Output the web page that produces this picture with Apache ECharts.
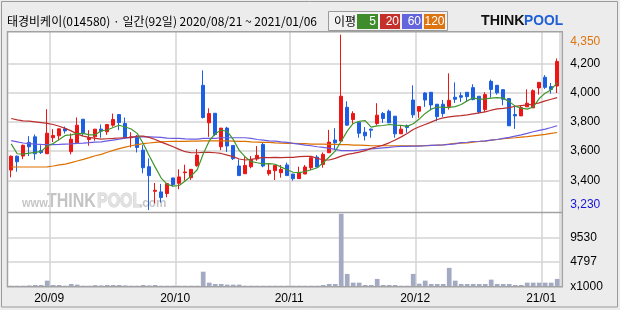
<!DOCTYPE html>
<html><head><meta charset="utf-8">
<script src="https://cdn.jsdelivr.net/npm/echarts@6/dist/echarts.min.js"></script>
<style>html,body{margin:0;padding:0;background:#ececec}#c{width:620px;height:310px}</style>
</head><body><div id="c"></div><script>
const dates = [
'2020/08/21','2020/08/24','2020/08/25','2020/08/26','2020/08/27','2020/08/28','2020/08/31',
'2020/09/01','2020/09/02','2020/09/03','2020/09/04','2020/09/07','2020/09/08','2020/09/09','2020/09/10','2020/09/11','2020/09/14','2020/09/15','2020/09/16','2020/09/17','2020/09/18','2020/09/21','2020/09/22','2020/09/23','2020/09/24','2020/09/25','2020/09/28','2020/09/29',
'2020/10/05','2020/10/06','2020/10/07','2020/10/08','2020/10/12','2020/10/13','2020/10/14','2020/10/15','2020/10/16','2020/10/19','2020/10/20','2020/10/21','2020/10/22','2020/10/23','2020/10/26','2020/10/27','2020/10/28','2020/10/29','2020/10/30',
'2020/11/02','2020/11/03','2020/11/04','2020/11/05','2020/11/06','2020/11/09','2020/11/10','2020/11/11','2020/11/12','2020/11/13','2020/11/16','2020/11/17','2020/11/18','2020/11/19','2020/11/20','2020/11/23','2020/11/24','2020/11/25','2020/11/26','2020/11/27','2020/11/30',
'2020/12/01','2020/12/02','2020/12/03','2020/12/04','2020/12/07','2020/12/08','2020/12/09','2020/12/10','2020/12/11','2020/12/14','2020/12/15','2020/12/16','2020/12/17','2020/12/18','2020/12/21','2020/12/22','2020/12/23','2020/12/24','2020/12/28','2020/12/29','2020/12/30',
'2021/01/04','2021/01/05','2021/01/06'];

const opens = [3470,3565,3566,3660,3698,3603,3582,3692,3705,3753,3596,3657,3819,3680,3698,
3751,3733,3778,3851,3790,3692,3694,3607,3493,3324,3320,3309,3416,3379,3452,
3418,3500,4052,3794,3860,3630,3758,3639,3498,3445,3493,3546,3646,3445,3466,
3452,3505,3443,3411,3443,3486,3559,3509,3589,3676,3669,3901,3817,3799,3730,
3751,3790,3858,3874,3840,3719,3774,3951,3874,3999,4004,3922,3922,3906,3970,
3981,4004,4036,3977,3885,4079,4052,4022,3961,3851,3842,3904,3897,4034,4107,4043,4047];
const closes = [3565,3527,3640,3630,3582,3590,3723,3708,3753,3739,3682,3778,3726,3694,3751,
3737,3783,3817,3796,3692,3698,3625,3486,3432,3331,3281,3377,3370,3423,3457,
3475,3573,3831,3858,3714,3758,3635,3548,3432,3502,3543,3571,3498,3468,3502,
3475,3432,3411,3454,3491,3555,3491,3578,3662,3657,3977,3778,3858,3723,3705,
3744,3847,3824,3794,3719,3751,3762,3849,3906,3951,3917,3837,3858,3949,3956,
3970,3974,3954,3869,3988,4024,4000,3956,3774,3842,3899,3929,4015,4072,4038,4024,4216];
const lows = [3420,3459,3545,3566,3541,3580,3580,3662,3673,3721,3578,3653,3703,3637,3671,
3692,3712,3767,3744,3687,3625,3591,3448,3195,3242,3247,3283,3356,3338,3398,
3402,3493,3824,3698,3703,3607,3594,3539,3431,3444,3482,3534,3489,3432,3402,
3418,3431,3397,3410,3442,3470,3490,3486,3588,3607,3668,3777,3790,3692,3673,
3692,3778,3794,3793,3692,3718,3726,3828,3828,3904,3881,3806,3835,3885,3931,
3938,3938,3949,3858,3869,3967,3988,3915,3772,3753,3841,3903,3896,3988,4027,3995,3999];
const highs = [3570,3570,3645,3703,3714,3641,3888,3751,3755,3769,3721,3831,3820,3744,3752,
3783,3785,3858,3851,3831,3730,3710,3641,3550,3381,3375,3378,3416,3475,3507,
3476,3614,4154,3894,3861,3758,3767,3639,3543,3562,3566,3635,3657,3516,3503,
3505,3521,3443,3493,3505,3556,3573,3591,3746,3758,4400,3942,3874,3800,3765,
3755,3929,3869,3885,3841,3778,3783,4052,3907,4004,4005,3923,3951,4134,4072,
4004,4005,4059,3978,4004,4091,4053,4023,3962,3915,3915,4024,4024,4073,4122,4068,4236];

const volumes = [200,200,200,250,330,330,1170,330,330,200,520,400,200,200,300,
250,330,330,330,250,200,200,330,250,330,200,200,200,200,200,
200,200,2900,780,520,520,400,400,400,200,200,200,200,200,200,
200,200,200,200,200,200,200,330,520,520,14100,2470,780,780,330,
330,1500,330,330,330,200,200,2470,580,1170,520,520,520,3640,1170,
520,520,520,520,520,1365,520,520,520,330,330,780,780,780,780,780,1500];

const ma5 = [3650,3582,3580,3586,3592,3598,3635,3652,3680,3708,3712,3720,3722,3712,3712,
3740,3745,3762,3778,3766,3752,3722,3652,3568,3490,3415,3372,3360,3364,3395,
3430,3472,3580,3670,3720,3745,3735,3680,3605,3560,3528,3520,3513,3514,3510,
3490,3472,3455,3453,3460,3472,3486,3520,3560,3600,3668,3737,3790,3805,3810,
3765,3773,3776,3783,3779,3777,3770,3788,3820,3859,3888,3903,3901,3900,3906,
3920,3945,3966,3956,3959,3964,3967,3964,3940,3909,3895,3888,3903,3961,3998,4022,4070];
const ma20 = [3824,3815,3808,3806,3801,3796,3790,3783,3771,3756,3739,3717,3703,3694,3687,
3683,3685,3687,3690,3692,3694,3703,3703,3694,3680,3662,3646,3630,3612,3596,
3589,3589,3591,3591,3589,3584,3573,3562,3546,3539,3543,3550,3557,3555,3557,
3555,3557,3557,3562,3564,3564,3550,3539,3539,3550,3566,3578,3584,3593,3603,
3619,3630,3641,3657,3676,3698,3721,3749,3767,3783,3799,3817,3828,3835,3840,
3844,3849,3856,3863,3869,3881,3890,3894,3899,3908,3913,3917,3922,3931,3945,3956,3967];
const ma60 = [3672,3664,3656,3652,3648,3646,3645,3645,3646,3648,3650,3653,3655,3658,3662,
3664,3670,3676,3682,3689,3694,3698,3698,3698,3696,3694,3689,3687,3687,3684,
3682,3682,3687,3687,3687,3692,3692,3692,3692,3692,3687,3680,3676,3671,3669,
3664,3660,3653,3648,3641,3637,3630,3626,3619,3612,3603,3603,3603,3607,3612,
3616,3619,3623,3626,3630,3632,3633,3634,3635,3637,3639,3641,3643,3646,3650,
3658,3661,3666,3668,3671,3676,3680,3687,3694,3703,3712,3722,3733,3742,3751,3762,3774];
const ma120 = [3491,3491,3491,3491,3491,3491,3492,3498,3505,3511,3521,3532,3543,3555,3568,
3578,3592,3605,3617,3628,3637,3645,3651,3656,3660,3663,3666,3667,3667,3667,
3669,3669,3671,3671,3671,3671,3671,3669,3667,3667,3664,3662,3660,3660,3657,
3655,3653,3653,3651,3651,3648,3648,3648,3646,3646,3644,3644,3641,3641,3639,
3637,3637,3637,3637,3636,3636,3636,3636,3636,3638,3640,3641,3643,3648,3653,
3655,3657,3662,3666,3669,3676,3680,3685,3689,3692,3696,3700,3705,3710,3715,3722,3728];

const priceTicks = [3230,3400,3600,3800,4000,4200,4350];
const priceTickLabels = ['3,230','3,400','3,600','3,800','4,000','4,200','4,350'];
const priceGrid = [3400,3600,3800,4000,4200];
const volTicks = [0,4797,9530];
const volTickLabels = ['x1000','4797','9530'];

const monthIdx = new Set();
dates.forEach((d,i)=>{ if(i>0 && d.slice(0,7)!==dates[i-1].slice(0,7)) monthIdx.add(i); });
const isMonth = (i)=>monthIdx.has(i);

const UP='#ee1515', DOWN='#1c5fe4';
const chart = echarts.init(document.getElementById('c'));
const numFont = '"Liberation Sans", Arial, sans-serif';
const krFont = '"Noto Sans CJK KR", sans-serif';
const lblRich = {
  n:{color:'#000', fontSize:12, fontFamily:numFont},
  lo:{color:'#1414d8', fontSize:12, fontFamily:numFont},
  hi:{color:'#dc7410', fontSize:12, fontFamily:numFont}
};

const option = {
  backgroundColor:'#ececec',
  animation:false,
  grid:[
    {left:8.2, width:552, top:31.7, height:180.6},
    {left:8.2, width:552, top:212.7, height:74}
  ],
  xAxis:[
    {type:'category', gridIndex:0, data:dates, boundaryGap:true,
     axisLine:{show:false}, axisTick:{show:false}, axisLabel:{show:false},
     splitLine:{show:true, interval:isMonth, lineStyle:{color:'#d4d4d4', width:1.5}}},
    {type:'category', gridIndex:1, data:dates, boundaryGap:true,
     axisLine:{show:false}, axisTick:{show:false},
     axisLabel:{show:true, interval:isMonth, formatter:v=>v.slice(2,4)+'/'+v.slice(5,7),
       color:'#000', fontSize:12, fontFamily:numFont, margin:6, padding:[0,8,0,0]},
     splitLine:{show:true, interval:isMonth, lineStyle:{color:'#d4d4d4', width:1.5}}}
  ],
  yAxis:[
    {type:'value', gridIndex:0, position:'right', min:3180, max:4420, scale:true,
     splitLine:{show:false}, axisLine:{show:false}, axisTick:{show:false},
     axisLabel:{customValues:priceTicks, margin:10, fontSize:12, fontFamily:numFont, rich:lblRich,
       formatter:v=>{const k=priceTicks.indexOf(v); if(k<0) return '';
         const s = k===0?'lo':(k===priceTicks.length-1?'hi':'n');
         return '{'+s+'|'+priceTickLabels[k]+'}';}}},
    {type:'value', gridIndex:1, position:'right', min:0, max:14300,
     splitLine:{show:false}, axisLine:{show:false}, axisTick:{show:false},
     axisLabel:{customValues:volTicks, margin:10, fontSize:12, fontFamily:numFont, color:'#000',
       formatter:v=>{const k=volTicks.indexOf(v); return k>=0?volTickLabels[k]:'';}}}
  ],
  series:[
    {type:'candlestick', xAxisIndex:0, yAxisIndex:0, barWidth:3.6,
     data:opens.map((o,i)=>[o,closes[i],lows[i],highs[i]]),
     itemStyle:{color:UP, color0:DOWN, borderColor:UP, borderColor0:DOWN, borderWidth:1},
     markLine:{z:1, silent:true, symbol:['none','none'], label:{show:false}, animation:false,
       lineStyle:{color:'#d4d4d4', type:'solid', width:1.5},
       emphasis:{disabled:true},
       data:priceGrid.map(v=>({yAxis:v}))}},
    {type:'line', xAxisIndex:0, yAxisIndex:0, data:ma120, symbol:'none', lineStyle:{color:'#dc7000', width:1.2}, z:3, silent:true},
    {type:'line', xAxisIndex:0, yAxisIndex:0, data:ma60, symbol:'none', lineStyle:{color:'#6a5ce0', width:1.2}, z:3, silent:true},
    {type:'line', xAxisIndex:0, yAxisIndex:0, data:ma20, symbol:'none', lineStyle:{color:'#bb2e2e', width:1.2}, z:3, silent:true},
    {type:'line', xAxisIndex:0, yAxisIndex:0, data:ma5, symbol:'none', lineStyle:{color:'#3f962c', width:1.2}, z:3, silent:true},
    {type:'bar', xAxisIndex:1, yAxisIndex:1, data:volumes, barWidth:4.7, itemStyle:{color:'#a3aac2'},
     markLine:{z:1, silent:true, symbol:['none','none'], label:{show:false}, animation:false,
       lineStyle:{color:'#d4d4d4', type:'solid', width:1.5},
       data:volTicks.slice(1).map(v=>({yAxis:v}))}}
  ],
  graphic:{elements:[
    {type:'rect', z:-5, silent:true, shape:{x:7.5, y:31.7, width:554.8, height:255}, style:{fill:'#ffffff'}},
    {type:'group', z:0, silent:true, x:22, y:210, children:[
      {type:'text', x:0, y:0, scaleX:0.85, style:{text:'www.', font:'bold 13px '+numFont, fill:'#c6c6c6', verticalAlign:'bottom'}},
      {type:'text', x:25, y:1, scaleX:0.8, style:{text:'THINK', font:'bold 20px '+numFont, fill:'#c4c4c4', verticalAlign:'bottom'}},
      {type:'text', x:75, y:1, scaleX:0.8, style:{text:'POOL', font:'bold 20px '+numFont, fill:'#e2e2e2', stroke:'#cfcfcf', lineWidth:1, verticalAlign:'bottom'}},
      {type:'text', x:117, y:0, scaleX:0.9, style:{text:'.com', font:'bold 13px '+numFont, fill:'#c6c6c6', verticalAlign:'bottom'}}
    ]},
    {type:'rect', z:50, silent:true, shape:{x:7.5, y:31.7, width:554.8, height:255}, style:{fill:'none', stroke:'#a2a2a2', lineWidth:1.5}},
    {type:'line', z:50, silent:true, shape:{x1:7.5, y1:212.5, x2:562.3, y2:212.5}, style:{stroke:'#a2a2a2', lineWidth:1.5}},
    {type:'rect', z:50, silent:true, shape:{x:1.5, y:1.5, width:616, height:305.5}, style:{fill:'none', stroke:'#9a9a9a', lineWidth:1}},
    {type:'text', x:7, y:21, silent:true, style:{text:'태경비케이(014580) · 일간(92일) 2020/08/21 ~ 2021/01/06', font:'12px '+krFont, fill:'#000', verticalAlign:'middle'}},
    {type:'rect', silent:true, shape:{x:328.5, y:11.5, width:119, height:19}, style:{fill:'#f2f2f2', stroke:'#9a9a9a', lineWidth:1}},
    {type:'text', x:334, y:21, silent:true, style:{text:'이평', font:'12px '+krFont, fill:'#000', verticalAlign:'middle'}},
    {type:'rect', silent:true, shape:{x:357, y:14, width:21, height:15}, style:{fill:'#3e8c2c'}},
    {type:'rect', silent:true, shape:{x:380, y:14, width:20, height:15}, style:{fill:'#c4302a'}},
    {type:'rect', silent:true, shape:{x:402, y:14, width:20, height:15}, style:{fill:'#6464dc'}},
    {type:'rect', silent:true, shape:{x:424, y:14, width:21, height:15}, style:{fill:'#dc7410'}},
    {type:'text', x:376, y:21.5, silent:true, style:{text:'5', font:'12px '+numFont, fill:'#fff', align:'right', verticalAlign:'middle'}},
    {type:'text', x:399, y:21.5, silent:true, style:{text:'20', font:'12px '+numFont, fill:'#fff', align:'right', verticalAlign:'middle'}},
    {type:'text', x:421, y:21.5, silent:true, style:{text:'60', font:'12px '+numFont, fill:'#fff', align:'right', verticalAlign:'middle'}},
    {type:'text', x:444.5, y:21.5, silent:true, style:{text:'120', font:'12px '+numFont, fill:'#fff', align:'right', verticalAlign:'middle'}},
    {type:'text', x:481, y:21, silent:true, scaleX:0.95, style:{text:'THINK', font:'900 15px '+numFont, fill:'#111', verticalAlign:'middle'}},
    {type:'text', x:524, y:21, silent:true, scaleX:0.92, style:{text:'POOL', font:'900 15px '+numFont, fill:'#1f5fd6', verticalAlign:'middle'}}
  ]}
};
chart.setOption(option);
</script></body></html>
